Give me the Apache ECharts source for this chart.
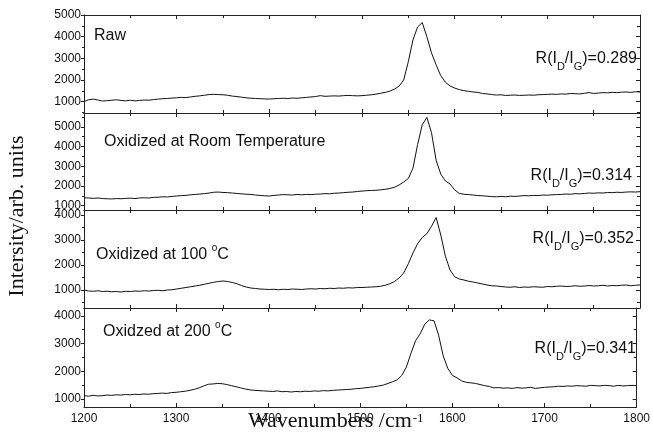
<!DOCTYPE html>
<html>
<head>
<meta charset="utf-8">
<script src="https://cdn.jsdelivr.net/npm/echarts@6/dist/echarts.min.js"></script>
<style>
  html, body { margin: 0; padding: 0; background: #fff; }
  #chart { width: 653px; height: 438px; }
</style>
</head>
<body>
<div id="chart"></div>
<script>
// sampling grid of the spectra, cm-1
const wavenumbers = Array.from({ length: 121 }, (_, i) => 1200 + i * 5);

const raw = [
  1010, 1090, 1120, 1080, 1030, 1050, 1070, 1090, 1060, 1040, 1070, 1040, 1060, 1080, 1070, 1100,
  1120, 1140, 1150, 1170, 1180, 1200, 1190, 1220, 1250, 1270, 1300, 1330, 1340, 1330, 1320, 1300,
  1260, 1240, 1210, 1180, 1160, 1150, 1140, 1130, 1120, 1140, 1150, 1160, 1150, 1170, 1160, 1180,
  1200, 1220, 1240, 1280, 1250, 1260, 1270, 1260, 1280, 1290, 1280, 1270, 1280, 1300, 1320, 1350,
  1390, 1430, 1490, 1580, 1720, 2000, 2850, 3850, 4450, 4650, 4000, 3250, 2700, 2200, 1900, 1730,
  1630, 1560, 1510, 1480, 1450, 1430, 1380, 1360, 1330, 1310, 1320, 1290, 1300, 1310, 1290, 1300,
  1310, 1300, 1320, 1330, 1340, 1350, 1340, 1360, 1350, 1380, 1370, 1360, 1390, 1420, 1380, 1400,
  1420, 1410, 1430, 1420, 1440, 1450, 1430, 1460, 1450
];

const oxidizedRoomTemp = [
  1400, 1390, 1370, 1390, 1360, 1350, 1340, 1360, 1350, 1370, 1380, 1360, 1390, 1400, 1390, 1420,
  1430, 1450, 1440, 1470, 1490, 1510, 1520, 1550, 1570, 1590, 1610, 1640, 1680, 1690, 1670, 1660,
  1640, 1620, 1600, 1580, 1570, 1540, 1520, 1500, 1490, 1520, 1540, 1560, 1550, 1540, 1570, 1550,
  1570, 1560, 1580, 1590, 1610, 1600, 1630, 1640, 1660, 1680, 1690, 1720, 1740, 1760, 1770, 1780,
  1800, 1830, 1870, 1930, 2050, 2200, 2380, 2900, 4100, 5100, 5480, 4700, 3300, 2600, 2250, 2100,
  1800, 1620, 1580, 1560, 1540, 1510, 1500, 1480, 1460, 1450, 1470, 1450, 1480, 1470, 1490, 1510,
  1500, 1520, 1510, 1540, 1530, 1550, 1560, 1570, 1590, 1580, 1610, 1600, 1620, 1640, 1630, 1650,
  1640, 1670, 1660, 1680, 1670, 1690, 1700, 1690, 1710
];

const oxidized100 = [
  1000, 960, 950, 970, 940, 950, 930, 940, 920, 950, 940, 960, 950, 970, 960, 980,
  990, 970, 1000, 1010, 1040, 1070, 1100, 1130, 1160, 1190, 1230, 1270, 1310, 1340, 1360, 1340,
  1300, 1250, 1180, 1120, 1080, 1060, 1040, 1030, 1020, 1030, 1010, 1030, 1020, 1040, 1030, 1020,
  1040, 1050, 1040, 1060, 1050, 1070, 1060, 1080, 1070, 1090, 1080, 1100, 1100, 1110, 1120, 1130,
  1150, 1190, 1250, 1340, 1480, 1680, 2050, 2480, 2850, 3100, 3250, 3550, 3900, 3200, 2350, 1800,
  1530, 1440, 1400, 1350, 1320, 1280, 1240, 1200, 1170, 1160, 1140, 1120, 1110, 1130, 1100, 1120,
  1110, 1130, 1120, 1110, 1140, 1130, 1150, 1160, 1140, 1150, 1170, 1150, 1160, 1180, 1160, 1170,
  1190, 1160, 1180, 1170, 1190, 1200, 1170, 1190, 1200
];

const oxidized200 = [
  1120, 1100, 1130, 1110, 1120, 1140, 1130, 1150, 1140, 1160, 1150, 1170, 1160, 1180, 1170, 1190,
  1200, 1210, 1200, 1230, 1240, 1260, 1280, 1310, 1350, 1400, 1470, 1530, 1540, 1560, 1550, 1520,
  1480, 1440, 1400, 1360, 1330, 1310, 1300, 1290, 1280, 1270, 1290, 1260, 1270, 1250, 1270, 1260,
  1280, 1270, 1290, 1280, 1300, 1290, 1310, 1320, 1330, 1340, 1350, 1370, 1380, 1400, 1420, 1440,
  1470, 1500, 1560, 1620, 1690, 1850, 2150, 2650, 3100, 3350, 3700, 3850, 3820, 3300, 2550, 2100,
  1850, 1760, 1650, 1600, 1580, 1560, 1520, 1480, 1450, 1400, 1410, 1390, 1400, 1380, 1410, 1390,
  1400, 1420, 1380, 1400, 1420, 1430, 1440, 1460, 1450, 1470, 1460, 1480, 1470, 1460, 1490, 1480,
  1470, 1490, 1480, 1460, 1490, 1470, 1480, 1490, 1480
];

const panelLabels = ['Raw', 'Oxidized at Room Temperature', 'Oxidized at 100 {sup|o}C', 'Oxidzed at 200 {sup|o}C'];
const ratioLabels = ['0.289', '0.314', '0.352', '0.341'];
const yRanges = [[480, 5000], [780, 5700], [280, 4200], [710, 4280]];
const yMajorTicks = [
  [1000, 2000, 3000, 4000, 5000],
  [1000, 2000, 3000, 4000, 5000],
  [1000, 2000, 3000, 4000],
  [1000, 2000, 3000, 4000]
];
const yMinorTicks = [
  [500, 1500, 2500, 3500, 4500],
  [1500, 2500, 3500, 4500, 5500],
  [500, 1500, 2500, 3500],
  [1500, 2500, 3500]
];

const spectra = [raw, oxidizedRoomTemp, oxidized100, oxidized200];

// layout
const plotLeft = 84;
const plotWidth = 556;
const panelTops = [15, 113, 210, 308];
const panelHeights = [98, 97, 98, 99];
const labelPos = [[94, 34], [104, 140], [96, 253], [103, 330]];
const ratioPos = [[637, 60], [632, 177], [634, 240], [636, 350]];

const ink = '#111';
const sans = 'Liberation Sans, Arial, sans-serif';
const serif = 'Liberation Serif, Times New Roman, serif';

const plainNumber = (v) => String(v);

const grids = [];
const xAxes = [];
const yAxes = [];
const series = [];
const graphics = [];

function lineAxis(extra) {
  return Object.assign({
    axisLine: { show: true, onZero: false, lineStyle: { color: '#222', width: 1 } },
    splitLine: { show: false },
    axisLabel: { show: false }
  }, extra);
}

spectra.forEach((values, i) => {
  grids.push({ left: plotLeft, width: plotWidth, top: panelTops[i], height: panelHeights[i] });

  ['bottom', 'top'].forEach((pos) => {
    xAxes.push(lineAxis({
      gridIndex: i,
      type: 'value',
      position: pos,
      min: 1200,
      max: 1800,
      interval: 100,
      axisTick: { inside: true, length: 4, lineStyle: { color: '#222' } },
      minorTick: { show: true, splitNumber: 2, length: 3, lineStyle: { color: '#222' } },
      axisLabel: {
        show: pos === 'bottom' && i === 3,
        color: ink,
        fontFamily: sans,
        fontSize: 12,
        margin: 6,
        formatter: plainNumber
      }
    }));
  });

  const [yMin, yMax] = yRanges[i];
  // left major (labels), left minor, right major, right minor
  yAxes.push(lineAxis({
    gridIndex: i, type: 'value', position: 'left', min: yMin, max: yMax,
    axisTick: { inside: false, length: 3, customValues: yMajorTicks[i], lineStyle: { color: '#222' } },
    axisLabel: {
      show: true, customValues: yMajorTicks[i], color: ink, fontFamily: sans, fontSize: 12, margin: 3,
      formatter: plainNumber
    }
  }));
  yAxes.push(lineAxis({
    gridIndex: i, type: 'value', position: 'left', min: yMin, max: yMax,
    axisLine: { show: false },
    axisTick: { inside: false, length: 2, customValues: yMinorTicks[i], lineStyle: { color: '#222' } }
  }));
  yAxes.push(lineAxis({
    gridIndex: i, type: 'value', position: 'right', min: yMin, max: yMax,
    axisTick: { inside: true, length: 4, customValues: yMajorTicks[i], lineStyle: { color: '#222' } }
  }));
  yAxes.push(lineAxis({
    gridIndex: i, type: 'value', position: 'right', min: yMin, max: yMax,
    axisLine: { show: false },
    axisTick: { inside: true, length: 3, customValues: yMinorTicks[i], lineStyle: { color: '#222' } }
  }));

  series.push({
    type: 'line',
    xAxisIndex: i * 2,
    yAxisIndex: i * 4,
    data: wavenumbers.map((w, k) => [w, values[k]]),
    showSymbol: false,
    symbol: 'none',
    animation: false,
    lineStyle: { color: ink, width: 1 }
  });

  graphics.push({
    type: 'text',
    x: labelPos[i][0],
    y: labelPos[i][1],
    style: {
      text: '{n|' + panelLabels[i].replace(' {sup|o}', ' }{sup|o}{n|') + '}',
      align: 'left',
      verticalAlign: 'middle',
      fill: ink,
      rich: {
        n: { fontFamily: sans, fontSize: 16, fill: ink, verticalAlign: 'top', padding: [4, 0, 0, 0] },
        sup: { fontFamily: sans, fontSize: 10, fill: ink, verticalAlign: 'top' }
      }
    }
  });

  graphics.push({
    type: 'text',
    x: ratioPos[i][0],
    y: ratioPos[i][1] - 9,
    style: {
      text: '{n|R(I}{sub|D}{n|/I}{sub|G}{n|)=' + ratioLabels[i] + '}',
      align: 'right',
      verticalAlign: 'top',
      fill: ink,
      rich: {
        n: { fontFamily: sans, fontSize: 16, fill: ink, verticalAlign: 'top' },
        sub: { fontFamily: sans, fontSize: 11, fill: ink, verticalAlign: 'top', padding: [10, 0, 0, 0] }
      }
    }
  });
});

graphics.push({
  type: 'text',
  x: 17,
  y: 216,
  rotation: Math.PI / 2,
  style: {
    text: 'Intersity/arb. units',
    font: '22px ' + serif,
    fill: ink,
    align: 'center',
    verticalAlign: 'middle'
  }
});

graphics.push({
  type: 'text',
  x: 248,
  y: 410,
  style: {
    text: '{n|Wavenumbers /cm}{sup|-1}',
    align: 'left',
    verticalAlign: 'top',
    fill: ink,
    rich: {
      n: { fontFamily: serif, fontSize: 22, fill: ink, verticalAlign: 'top' },
      sup: { fontFamily: serif, fontSize: 13, fill: ink, verticalAlign: 'top', padding: [2, 0, 0, 1] }
    }
  }
});

const chart = echarts.init(document.getElementById('chart'), null, { renderer: 'canvas' });
chart.setOption({
  backgroundColor: '#fff',
  animation: false,
  grid: grids,
  xAxis: xAxes,
  yAxis: yAxes,
  series: series,
  graphic: graphics
});
</script>
</body>
</html>
